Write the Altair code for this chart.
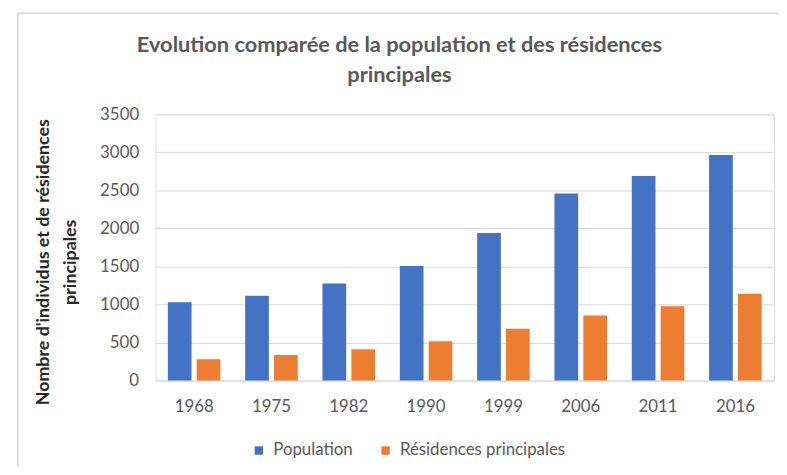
import altair as alt
import pandas as pd

years = ["1968", "1975", "1982", "1990", "1999", "2006", "2011", "2016"]
population = [1030, 1115, 1275, 1505, 1940, 2460, 2690, 2965]
residences = [280, 335, 410, 515, 680, 855, 975, 1140]
series = ["Population", "Résidences principales"]
colors = ["#4472C4", "#ED7D31"]
y_ticks = [0, 500, 1000, 1500, 2000, 2500, 3000, 3500]

rows = []
for i, yr in enumerate(years):
    rows.append({"annee": yr, "serie": series[0], "valeur": population[i]})
    rows.append({"annee": yr, "serie": series[1], "valeur": residences[i]})
df = pd.DataFrame(rows)

FONT = "Lato"
GREY = "#595959"

bars = alt.Chart(df).mark_bar().encode(
    x=alt.X("annee:N", sort=years, title=None,
            scale=alt.Scale(paddingInner=0.32, paddingOuter=0.16),
            axis=alt.Axis(labelAngle=0, labelPadding=18, ticks=False, domain=False,
                          labelFontSize=17, labelColor=GREY, labelFont=FONT)),
    xOffset=alt.XOffset("serie:N", sort=series,
                        scale=alt.Scale(paddingInner=0.18, paddingOuter=0)),
    y=alt.Y("valeur:Q", title=["Nombre d'individus et de résidences", "principales"],
            scale=alt.Scale(domain=[0, 3500]),
            axis=alt.Axis(values=y_ticks, format="d", ticks=False, domain=False,
                          labelPadding=17,
                          labelFontSize=17, labelColor=GREY, labelFont=FONT,
                          gridColor="#d9d9d9", gridWidth=1,
                          titleFont=FONT, titleFontSize=18, titleFontWeight="bold",
                          titleColor="#262626", titleLineHeight=27,
                          titleAngle=-90, titleAlign="center", titleBaseline="top",
                          titleX=-122, titleY=149)),
    color=alt.Color("serie:N", sort=series,
                    scale=alt.Scale(domain=series, range=colors),
                    legend=alt.Legend(title=None, orient="none", direction="horizontal",
                                      legendX=96, legendY=331,
                                      symbolType="square", symbolSize=72,
                                      symbolStrokeWidth=0, columnPadding=24,
                                      labelFontSize=17, labelColor=GREY, labelFont=FONT,
                                      labelOffset=6, labelLimit=400)),
)

frame = alt.Chart(pd.DataFrame({"a": [0]})).mark_rect(
    fill=None, stroke="#d9d9d9", strokeWidth=1.5
).encode(
    x=alt.value(-139), x2=alt.value(640), y=alt.value(-102), y2=alt.value(400)
)

chart = alt.layer(frame, bars).properties(
    width=625,
    height=269,
    padding={"left": 149, "top": 105, "right": 5, "bottom": 85},
    autosize=alt.AutoSizeParams(type="none"),
    title=alt.TitleParams(
        text=["Evolution comparée de la population et des résidences", "principales"],
        anchor="middle", frame="group", dx=-66, dy=75, offset=0,
        font=FONT, fontSize=22, fontWeight="bold", color=GREY, lineHeight=30,
    ),
).configure_view(stroke=None).configure(background="white")

chart.save("out.html", embed_options={"renderer": "svg", "actions": False})
